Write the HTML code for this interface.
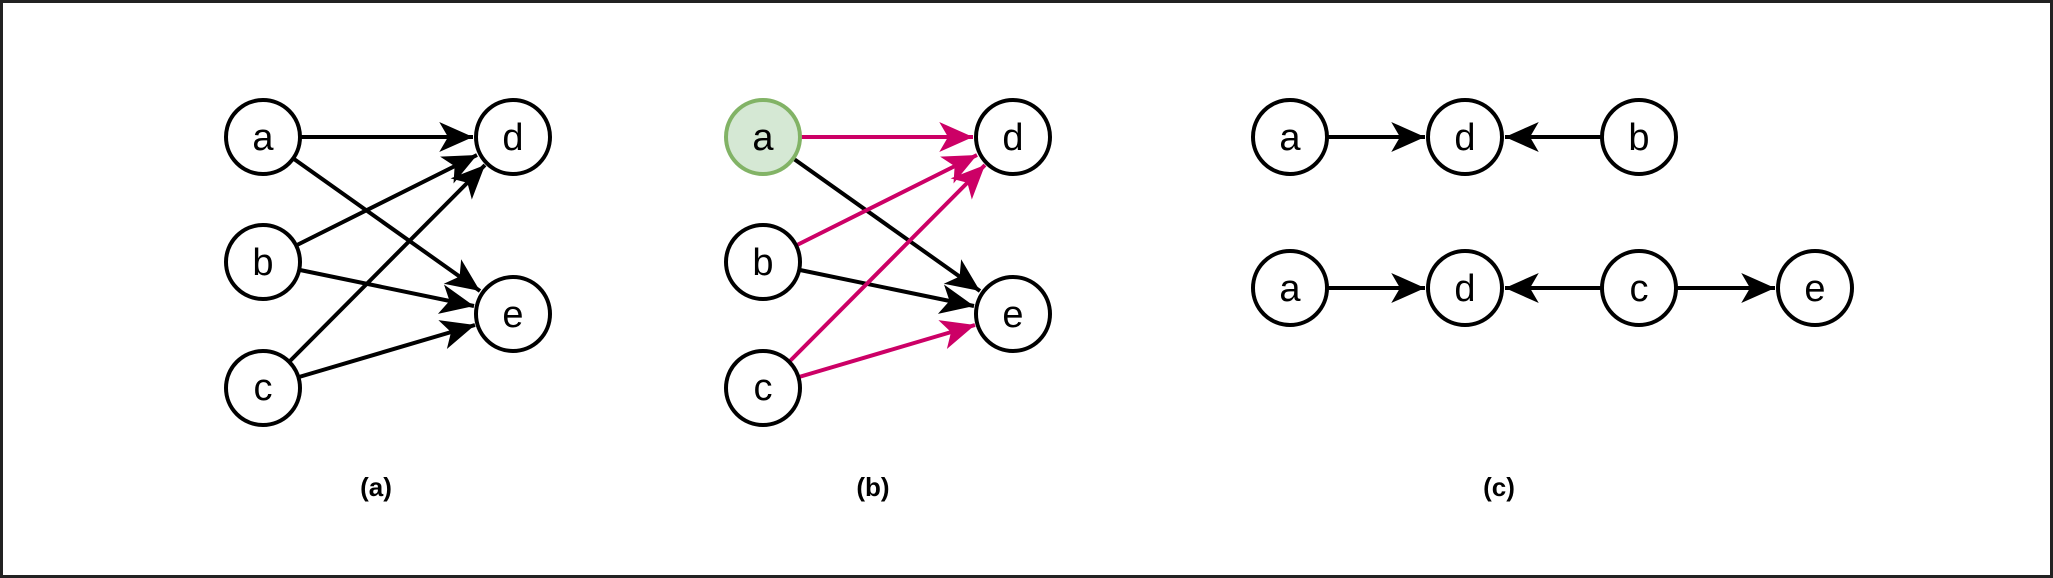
<!DOCTYPE html>
<html><head><meta charset="utf-8"><style>
html,body{margin:0;padding:0;background:#fff;}
svg{display:block;}
text{font-family:"Liberation Sans",sans-serif;}
</style></head><body>
<svg width="2053" height="578" viewBox="0 0 2053 578" xmlns="http://www.w3.org/2000/svg">
<defs>
<marker id="ak" markerUnits="userSpaceOnUse" markerWidth="40" markerHeight="40" viewBox="-30 -15 32 30" refX="0" refY="0" orient="auto">
<path d="M-27,-12 L0,0 L-27,12 L-20,0 Z" fill="#000"/></marker>
<marker id="ap" markerUnits="userSpaceOnUse" markerWidth="40" markerHeight="40" viewBox="-30 -15 32 30" refX="0" refY="0" orient="auto">
<path d="M-27,-12 L0,0 L-27,12 L-20,0 Z" fill="#CC0066"/></marker>
</defs>
<rect x="1.5" y="1.5" width="2050" height="575" fill="#fff" stroke="#222" stroke-width="3"/>
<g stroke-width="4" fill="none">
<g stroke="#000" marker-end="url(#ak)">
<line x1="301" y1="137" x2="473" y2="137"/>
<line x1="294" y1="159" x2="480" y2="291"/>
<line x1="297" y1="245" x2="477" y2="155"/>
<line x1="300" y1="270" x2="474" y2="306"/>
<line x1="290" y1="361" x2="485" y2="165"/>
<line x1="299" y1="377" x2="475" y2="325"/>
</g>
<g stroke="#000" marker-end="url(#ak)">
<line x1="794" y1="159" x2="980" y2="291"/>
<line x1="800" y1="270" x2="974" y2="306"/>
</g>
<g stroke="#CC0066" marker-end="url(#ap)">
<line x1="801" y1="137" x2="973" y2="137"/>
<line x1="797" y1="245" x2="977" y2="155"/>
<line x1="790" y1="361" x2="985" y2="165"/>
<line x1="799" y1="377" x2="975" y2="325"/>
</g>
<g stroke="#000" marker-end="url(#ak)">
<line x1="1328" y1="137" x2="1425" y2="137"/>
<line x1="1601" y1="137" x2="1505" y2="137"/>
<line x1="1328" y1="288" x2="1425" y2="288"/>
<line x1="1601" y1="288" x2="1505" y2="288"/>
<line x1="1677" y1="288" x2="1775" y2="288"/>
</g>
</g>
<g stroke="#000" stroke-width="4" fill="#fff">
<circle cx="263" cy="137" r="37"/><circle cx="263" cy="262" r="37"/><circle cx="263" cy="388" r="37"/>
<circle cx="513" cy="137" r="37"/><circle cx="513" cy="314" r="37"/>
<circle cx="763" cy="262" r="37"/><circle cx="763" cy="388" r="37"/>
<circle cx="1013" cy="137" r="37"/><circle cx="1013" cy="314" r="37"/>
<circle cx="1290" cy="137" r="37"/><circle cx="1465" cy="137" r="37"/><circle cx="1639" cy="137" r="37"/>
<circle cx="1290" cy="288" r="37"/><circle cx="1465" cy="288" r="37"/><circle cx="1639" cy="288" r="37"/><circle cx="1815" cy="288" r="37"/>
</g>
<circle cx="763" cy="137" r="37" fill="#d5e8d4" stroke="#82b366" stroke-width="4"/>
<g font-size="38" text-anchor="middle" fill="#000">
<text x="263" y="150">a</text><text x="263" y="275">b</text><text x="263" y="400">c</text>
<text x="513" y="150">d</text><text x="513" y="327">e</text>
<text x="763" y="150">a</text><text x="763" y="275">b</text><text x="763" y="400">c</text>
<text x="1013" y="150">d</text><text x="1013" y="327">e</text>
<text x="1290" y="150">a</text><text x="1465" y="150">d</text><text x="1639" y="150">b</text>
<text x="1290" y="301">a</text><text x="1465" y="301">d</text><text x="1639" y="301">c</text><text x="1815" y="301">e</text>
</g>
<g font-size="26" font-weight="bold" text-anchor="middle" fill="#000">
<text x="376" y="496">(a)</text><text x="873" y="496">(b)</text><text x="1499" y="496">(c)</text>
</g>
</svg>
</body></html>
